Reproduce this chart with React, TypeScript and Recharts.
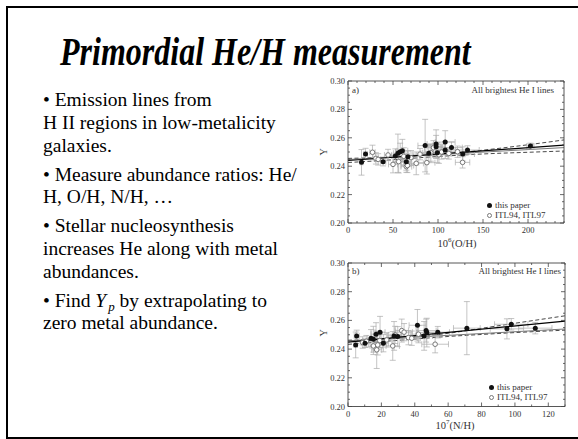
import React from 'react';
import { ComposedChart, Scatter, Line, XAxis, YAxis, ErrorBar } from 'recharts';

// ---------- Panel a: Y vs 10^6 (O/H) ----------
const ohPaper = [
  { x: 15.0, y: 0.2427, ey: 0.0090, ex: 1.5 },
  { x: 19.5, y: 0.2486, ey: 0.0040, ex: 2.0 },
  { x: 39.0, y: 0.2432, ey: 0.0030, ex: 3.0 },
  { x: 52.6, y: 0.2472, ey: 0.0050, ex: 4.0 },
  { x: 55.5, y: 0.2491, ey: 0.0135, ex: 5.0 },
  { x: 58.0, y: 0.2502, ey: 0.0060, ex: 5.0 },
  { x: 60.4, y: 0.2509, ey: 0.0080, ex: 6.0 },
  { x: 64.8, y: 0.2432, ey: 0.0060, ex: 6.0 },
  { x: 66.6, y: 0.2467, ey: 0.0040, ex: 6.0 },
  { x: 85.7, y: 0.2545, ey: 0.0185, ex: 8.0 },
  { x: 89.8, y: 0.2491, ey: 0.0060, ex: 9.0 },
  { x: 97.9, y: 0.2556, ey: 0.0100, ex: 10.0 },
  { x: 97.9, y: 0.2537, ey: 0.0080, ex: 10.0 },
  { x: 99.3, y: 0.2495, ey: 0.0070, ex: 10.0 },
  { x: 108.0, y: 0.2570, ey: 0.0080, ex: 11.0 },
  { x: 108.0, y: 0.2514, ey: 0.0060, ex: 11.0 },
  { x: 115.0, y: 0.2531, ey: 0.0040, ex: 12.0 },
  { x: 127.5, y: 0.2486, ey: 0.0050, ex: 13.0 },
  { x: 132.8, y: 0.2514, ey: 0.0030, ex: 13.0 },
  { x: 202.7, y: 0.2542, ey: 0.0020, ex: 4.0 },
];
const ohItl = [
  { x: 27.2, y: 0.2498, ey: 0.0050, ex: 3.0 },
  { x: 31.0, y: 0.2455, ey: 0.0040, ex: 3.0 },
  { x: 33.5, y: 0.2448, ey: 0.0040, ex: 3.0 },
  { x: 44.5, y: 0.2479, ey: 0.0040, ex: 4.0 },
  { x: 50.0, y: 0.2413, ey: 0.0060, ex: 5.0 },
  { x: 56.3, y: 0.2432, ey: 0.0080, ex: 6.0 },
  { x: 62.0, y: 0.2470, ey: 0.0060, ex: 6.0 },
  { x: 64.8, y: 0.2397, ey: 0.0040, ex: 6.0 },
  { x: 66.0, y: 0.2405, ey: 0.0050, ex: 7.0 },
  { x: 70.0, y: 0.2460, ey: 0.0050, ex: 7.0 },
  { x: 75.8, y: 0.2420, ey: 0.0080, ex: 8.0 },
  { x: 80.0, y: 0.2485, ey: 0.0040, ex: 8.0 },
  { x: 87.6, y: 0.2425, ey: 0.0080, ex: 9.0 },
  { x: 92.0, y: 0.2495, ey: 0.0060, ex: 9.0 },
  { x: 95.0, y: 0.2530, ey: 0.0050, ex: 10.0 },
  { x: 101.0, y: 0.2480, ey: 0.0060, ex: 10.0 },
  { x: 104.0, y: 0.2500, ey: 0.0050, ex: 10.0 },
  { x: 112.0, y: 0.2490, ey: 0.0040, ex: 11.0 },
  { x: 121.7, y: 0.2502, ey: 0.0040, ex: 12.0 },
  { x: 127.3, y: 0.2427, ey: 0.0040, ex: 8.0 },
];
const ohFitPaper = [{ x: 0, y: 0.2440 }, { x: 240, y: 0.2549 }];
const ohFitAll = [{ x: 0, y: 0.2447 }, { x: 240, y: 0.2531 }];
const ohBandUpper = [
  { x: 0, y: 0.2455 }, { x: 40, y: 0.2462 }, { x: 80, y: 0.2474 }, { x: 120, y: 0.2494 },
  { x: 160, y: 0.2520 }, { x: 200, y: 0.2551 }, { x: 240, y: 0.2585 },
];
const ohBandLower = [
  { x: 0, y: 0.2426 }, { x: 40, y: 0.2441 }, { x: 80, y: 0.2460 }, { x: 120, y: 0.2476 },
  { x: 160, y: 0.2489 }, { x: 200, y: 0.2498 }, { x: 240, y: 0.2507 },
];
const ohXTicks = [0, 10, 20, 30, 40, 50, 60, 70, 80, 90, 100, 110, 120, 130, 140, 150, 160, 170, 180, 190, 200, 210, 220, 230, 240];
const ohXLabels = [0, 50, 100, 150, 200];

// ---------- Panel b: Y vs 10^7 (N/H) ----------
const nhPaper = [
  { x: 4.6, y: 0.2429, ey: 0.0090, ex: 1.0 },
  { x: 5.2, y: 0.2492, ey: 0.0040, ex: 1.5 },
  { x: 10.2, y: 0.2441, ey: 0.0030, ex: 2.0 },
  { x: 13.8, y: 0.2476, ey: 0.0060, ex: 2.0 },
  { x: 15.2, y: 0.2469, ey: 0.0090, ex: 2.0 },
  { x: 16.8, y: 0.2504, ey: 0.0080, ex: 3.0 },
  { x: 19.2, y: 0.2518, ey: 0.0110, ex: 3.0 },
  { x: 21.2, y: 0.2441, ey: 0.0060, ex: 3.0 },
  { x: 27.6, y: 0.2492, ey: 0.0100, ex: 4.0 },
  { x: 29.8, y: 0.2487, ey: 0.0070, ex: 4.0 },
  { x: 41.6, y: 0.2566, ey: 0.0110, ex: 5.0 },
  { x: 45.6, y: 0.2492, ey: 0.0100, ex: 5.0 },
  { x: 46.8, y: 0.2529, ey: 0.0080, ex: 6.0 },
  { x: 47.2, y: 0.2515, ey: 0.0100, ex: 6.0 },
  { x: 53.8, y: 0.2518, ey: 0.0040, ex: 7.0 },
  { x: 71.2, y: 0.2546, ey: 0.0185, ex: 8.0 },
  { x: 95.2, y: 0.2541, ey: 0.0070, ex: 10.0 },
  { x: 97.8, y: 0.2573, ey: 0.0040, ex: 10.0 },
  { x: 112.2, y: 0.2546, ey: 0.0040, ex: 10.0 },
];
const nhItl = [
  { x: 8.8, y: 0.2446, ey: 0.0040, ex: 1.5 },
  { x: 11.0, y: 0.2455, ey: 0.0040, ex: 2.0 },
  { x: 15.2, y: 0.2422, ey: 0.0060, ex: 2.0 },
  { x: 17.2, y: 0.2395, ey: 0.0130, ex: 3.0 },
  { x: 17.8, y: 0.2429, ey: 0.0070, ex: 3.0 },
  { x: 19.0, y: 0.2460, ey: 0.0050, ex: 3.0 },
  { x: 23.2, y: 0.2464, ey: 0.0050, ex: 3.0 },
  { x: 26.8, y: 0.2422, ey: 0.0100, ex: 4.0 },
  { x: 28.2, y: 0.2499, ey: 0.0060, ex: 4.0 },
  { x: 32.2, y: 0.2529, ey: 0.0080, ex: 4.0 },
  { x: 33.6, y: 0.2518, ey: 0.0060, ex: 5.0 },
  { x: 36.2, y: 0.2480, ey: 0.0050, ex: 5.0 },
  { x: 38.2, y: 0.2476, ey: 0.0050, ex: 5.0 },
  { x: 42.2, y: 0.2504, ey: 0.0060, ex: 5.0 },
  { x: 52.2, y: 0.2434, ey: 0.0060, ex: 8.0 },
];
const nhFitPaper = [{ x: 0, y: 0.2448 }, { x: 130, y: 0.2595 }];
const nhFitAll = [{ x: 0, y: 0.2458 }, { x: 130, y: 0.2540 }];
const nhBandUpper = [
  { x: 0, y: 0.2462 }, { x: 20, y: 0.2468 }, { x: 40, y: 0.2485 }, { x: 60, y: 0.2510 },
  { x: 80, y: 0.2545 }, { x: 100, y: 0.2580 }, { x: 130, y: 0.2632 },
];
const nhBandLower = [
  { x: 0, y: 0.2433 }, { x: 20, y: 0.2452 }, { x: 40, y: 0.2470 }, { x: 60, y: 0.2488 },
  { x: 80, y: 0.2502 }, { x: 100, y: 0.2515 }, { x: 130, y: 0.2532 },
];
const nhXTicks = [0, 10, 20, 30, 40, 50, 60, 70, 80, 90, 100, 110, 120, 130];
const nhXLabels = [0, 20, 40, 60, 80, 100, 120];

// ---------- shared Y axis ----------
const yTicks = [0.2, 0.205, 0.21, 0.215, 0.22, 0.225, 0.23, 0.235, 0.24, 0.245, 0.25, 0.255, 0.26, 0.265, 0.27, 0.275, 0.28, 0.285, 0.29, 0.295, 0.3];
const yLabels = [0.2, 0.22, 0.24, 0.26, 0.28, 0.3];

const bullets = [
  ['• Emission lines from', 'H II regions in low-metalicity', 'galaxies.'],
  ['• Measure abundance ratios: He/', 'H, O/H, N/H, …'],
  ['• Stellar nucleosynthesis', 'increases He along with metal', 'abundances.'],
];

const AX = '#444';
const TXT = '#333';
const chartFont = '"Liberation Serif", "DejaVu Serif", serif';

const isIn = (arr: number[], v: number) => arr.some((m) => Math.abs(m - v) < 1e-9);

const makeTick = (side: string, labels: number[], fmt: (v: number) => string) => (p: any) => {
  const { x, y, payload } = p;
  const v = payload.value;
  const major = isIn(labels, v);
  const L = major ? 4 : 2;
  let ln: any;
  if (side === 'bottom') ln = { x1: x, y1: y, x2: x, y2: y - L };
  else if (side === 'top') ln = { x1: x, y1: y, x2: x, y2: y + L };
  else if (side === 'left') ln = { x1: x, y1: y, x2: x + L, y2: y };
  else ln = { x1: x, y1: y, x2: x - L, y2: y };
  return (
    <g>
      <line {...ln} stroke={AX} strokeWidth={0.8} />
      {major && side === 'bottom' && (
        <text x={x} y={y + 10} textAnchor="middle" fontSize={8.5} fill={TXT} fontFamily={chartFont}>
          {fmt(v)}
        </text>
      )}
      {major && side === 'left' && (
        <text x={x - 3} y={y + 3} textAnchor="end" fontSize={8.5} fill={TXT} fontFamily={chartFont}>
          {fmt(v)}
        </text>
      )}
    </g>
  );
};

const FilledDot = (p: any) => <circle cx={p.cx} cy={p.cy} r={2.5} fill="#111" />;
const OpenDot = (p: any) => <circle cx={p.cx} cy={p.cy} r={2.3} fill="#fff" stroke="#777" strokeWidth={1} />;

type PanelProps = {
  left: number; top: number; width: number; height: number;
  margin: any; xMax: number; xTicks: number[]; xLabels: number[];
  paper: any[]; itl: any[]; fitA: any[]; fitB: any[]; up: any[]; lo: any[];
};

const Panel = (pp: PanelProps) => {
  const fmtX = (v: number) => String(v);
  const fmtY = (v: number) => v.toFixed(2);
  return (
    <div style={{ position: 'absolute', left: pp.left, top: pp.top }}>
      <ComposedChart width={pp.width} height={pp.height} margin={pp.margin}>
        <XAxis xAxisId="b" dataKey="x" type="number" domain={[0, pp.xMax]} allowDataOverflow ticks={pp.xTicks} interval={0}
          height={1} tickSize={0} tickMargin={0} tickLine={false} axisLine={{ stroke: AX, strokeWidth: 0.9 }}
          tick={makeTick('bottom', pp.xLabels, fmtX)} />
        <XAxis xAxisId="t" orientation="top" dataKey="x" type="number" domain={[0, pp.xMax]} allowDataOverflow ticks={pp.xTicks} interval={0}
          height={1} tickSize={0} tickMargin={0} tickLine={false} axisLine={{ stroke: AX, strokeWidth: 0.9 }}
          tick={makeTick('top', pp.xLabels, fmtX)} />
        <YAxis yAxisId="l" dataKey="y" type="number" domain={[0.2, 0.3]} allowDataOverflow ticks={yTicks} interval={0}
          width={1} tickSize={0} tickMargin={0} tickLine={false} axisLine={{ stroke: AX, strokeWidth: 0.9 }}
          tick={makeTick('left', yLabels, fmtY)} />
        <YAxis yAxisId="r" orientation="right" dataKey="y" type="number" domain={[0.2, 0.3]} allowDataOverflow ticks={yTicks} interval={0}
          width={1} tickSize={0} tickMargin={0} tickLine={false} axisLine={{ stroke: AX, strokeWidth: 0.9 }}
          tick={makeTick('right', yLabels, fmtY)} />
        <Line xAxisId="b" yAxisId="l" data={pp.up} dataKey="y" type="monotone" dot={false} stroke="#333" strokeWidth={0.9} strokeDasharray="4 2.5" isAnimationActive={false} />
        <Line xAxisId="b" yAxisId="l" data={pp.lo} dataKey="y" type="monotone" dot={false} stroke="#333" strokeWidth={0.9} strokeDasharray="4 2.5" isAnimationActive={false} />
        <Line xAxisId="t" yAxisId="r" data={pp.fitB} dataKey="y" type="linear" dot={false} stroke="#555" strokeWidth={0.8} isAnimationActive={false} />
        <Scatter xAxisId="b" yAxisId="l" data={pp.itl} shape={OpenDot} isAnimationActive={false}>
          <ErrorBar dataKey="ey" direction="y" width={3} stroke="#aaa" strokeWidth={0.7} />
          <ErrorBar dataKey="ex" direction="x" width={3} stroke="#aaa" strokeWidth={0.7} />
        </Scatter>
        <Scatter xAxisId="b" yAxisId="l" data={pp.paper} shape={FilledDot} isAnimationActive={false}>
          <ErrorBar dataKey="ey" direction="y" width={3} stroke="#aaa" strokeWidth={0.7} />
          <ErrorBar dataKey="ex" direction="x" width={3} stroke="#aaa" strokeWidth={0.7} />
        </Scatter>
        <Line xAxisId="b" yAxisId="l" data={pp.fitA} dataKey="y" type="linear" dot={false} stroke="#000" strokeWidth={1.2} isAnimationActive={false} />
      </ComposedChart>
    </div>
  );
};

const abs = (l: number, t: number, extra: any = {}) => ({ position: 'absolute' as const, left: l, top: t, whiteSpace: 'nowrap' as const, ...extra });
const small = { fontFamily: chartFont, fontSize: 9, color: TXT, lineHeight: '10px' };

const Annot = ({ tag, tagY, rightX, legX, legY, xTitleX, xTitleY, exp, body, yLabelY }: any) => (
  <>
    <div style={abs(352, tagY - 5, small)}>{tag}</div>
    <div style={{ ...abs(0, tagY - 5, small), left: undefined, right: 578 - rightX }}>All brightest He I lines</div>
    <div style={abs(legX - 3, legY - 5, small)}>
      <span style={{ display: 'inline-block', width: 5, height: 5, borderRadius: 3, background: '#111', marginRight: 3, verticalAlign: 'middle' }} />
      this paper
    </div>
    <div style={abs(legX - 3, legY + 5, small)}>
      <span style={{ display: 'inline-block', width: 3, height: 3, borderRadius: 3, border: '1px solid #777', marginRight: 3, verticalAlign: 'middle' }} />
      ITL94, ITL97
    </div>
    <div style={{ ...abs(xTitleX - 40, xTitleY - 6, { ...small, fontSize: 10.5, lineHeight: '12px' }), width: 80, textAlign: 'center' }}>
      10<sup style={{ fontSize: 7 }}>{exp}</sup>({body})
    </div>
    <div style={{ ...abs(320, yLabelY - 6, { ...small, fontSize: 10, lineHeight: '12px' }), transform: 'rotate(-90deg)' }}>Y</div>
  </>
);

const bodyFont = '"Liberation Serif", "Times New Roman", serif';
const bodyStyle = { fontFamily: bodyFont, fontSize: 19.5, lineHeight: '22.8px', color: '#000' };

export default function App() {
  const paraTops = [89.2, 163.6, 215.2];
  return (
    <div style={{ position: 'absolute', left: 0, top: 0, width: 578, height: 439, overflow: 'hidden', background: '#fff' }}>
      <div style={{ position: 'absolute', left: 6, top: 6, width: 620, height: 433, border: '2.5px solid #000', boxSizing: 'border-box' }} />
      <div style={abs(60, 27, { fontFamily: bodyFont, fontWeight: 'bold', fontStyle: 'italic', fontSize: 32, lineHeight: '40px', transform: 'scaleY(1.22)', transformOrigin: 'top left' })}>
        Primordial He/H measurement
      </div>
      {bullets.map((lines, i) => (
        <div key={i} style={abs(43, paraTops[i], bodyStyle)}>
          {lines.map((l, j) => (<div key={j}>{l}</div>))}
        </div>
      ))}
      <div style={abs(43, 289.6, bodyStyle)}>
        <div>•  Find <i>Y</i><sub style={{ fontSize: 13, fontStyle: 'italic', lineHeight: 0, marginLeft: 2 }}>p</sub> by extrapolating to</div>
        <div>zero metal abundance.</div>
      </div>

      <Panel left={290} top={70} width={280} height={170} margin={{ top: 10, left: 57, right: 5, bottom: 16 }}
        xMax={240} xTicks={ohXTicks} xLabels={ohXLabels}
        paper={ohPaper} itl={ohItl} fitA={ohFitPaper} fitB={ohFitAll} up={ohBandUpper} lo={ohBandLower} />
      <Panel left={290} top={252} width={281} height={170} margin={{ top: 10, left: 57, right: 5, bottom: 14.5 }}
        xMax={130} xTicks={nhXTicks} xLabels={nhXLabels}
        paper={nhPaper} itl={nhItl} fitA={nhFitPaper} fitB={nhFitAll} up={nhBandUpper} lo={nhBandLower} />

      <Annot tag="a)" tagY={90} rightX={554} legX={490} legY={205} xTitleX={457} xTitleY={240} exp="6" body="O/H" yLabelY={152} />
      <Annot tag="b)" tagY={271} rightX={561} legX={492} legY={387} xTitleX={455} xTitleY={421.5} exp="7" body="N/H" yLabelY={333} />
    </div>
  );
}
